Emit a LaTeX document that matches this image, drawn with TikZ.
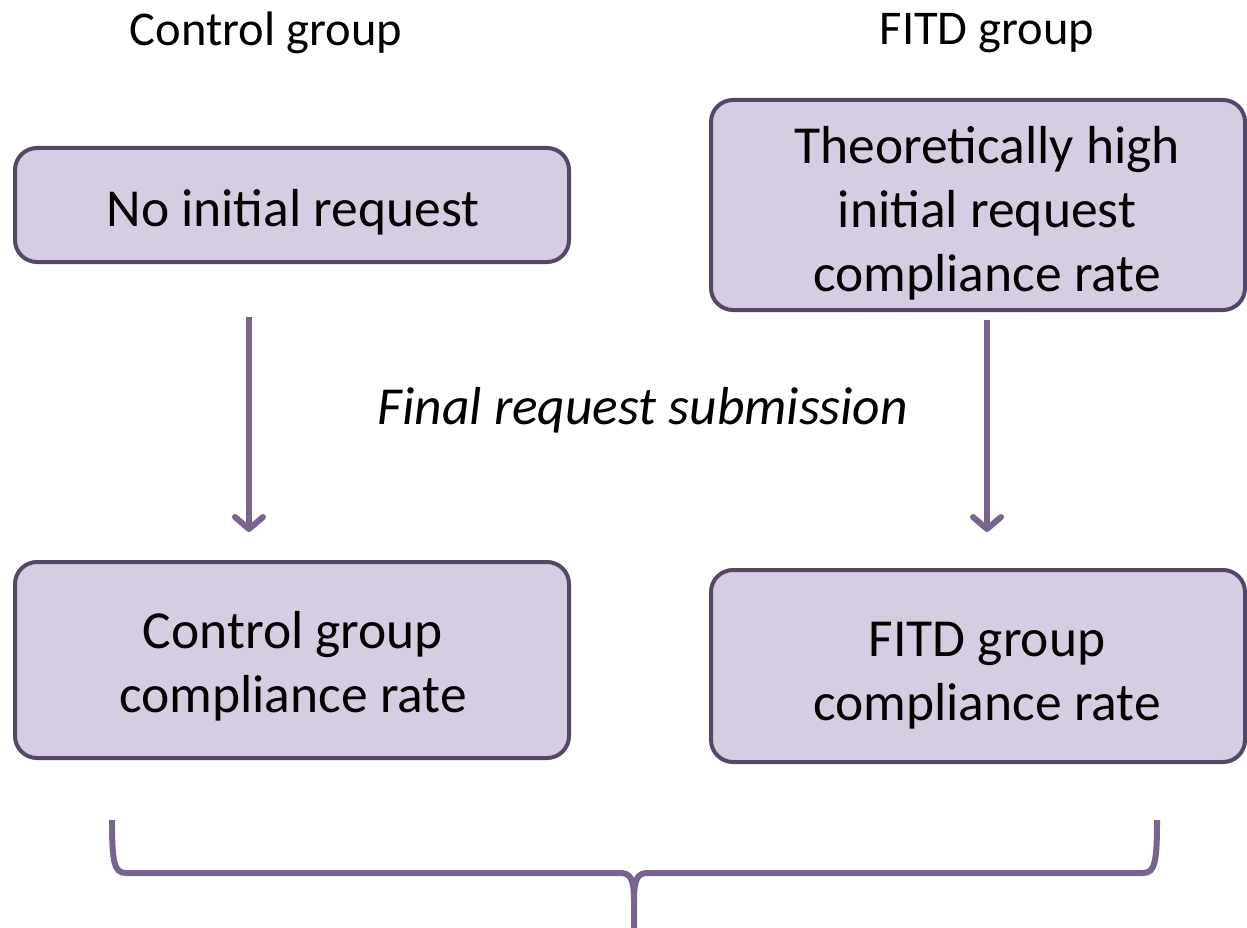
\documentclass[tikz,border=0pt]{standalone}
\usepackage{fontspec}
\setmainfont{Carlito}
\usetikzlibrary{arrows.meta}
\definecolor{boxfill}{HTML}{D7CDE2}
\definecolor{boxline}{HTML}{54476A}
\definecolor{arrowc}{HTML}{77648F}
\begin{document}
\begin{tikzpicture}[x=1pt,y=-1pt,
  box/.style={draw=boxline, fill=boxfill, line width=4pt, rounded corners=22pt, inner sep=0pt},
  boxtext/.style={align=center, inner sep=0pt, font=\fontsize{53.5}{64}\selectfont},
  title/.style={font=\fontsize{48.5}{58}\selectfont, inner sep=0pt},
  flow/.style={draw=arrowc, line width=6pt,
    -{Straight Barb[length=12pt,width=28pt,line cap=round,line join=round]}},
  bracel/.style={draw=arrowc, line width=6pt}]
\useasboundingbox (0,0) rectangle (1247,928);
\node[title] (t1) at (266,33) {Control group};
\node[title] (t2) at (987,33) {FITD group};
\node[box, minimum width=554pt, minimum height=114pt] (b1) at (292,205) {};
\node[boxtext] (b1t) at (293,212) {No initial request};
\node[box, minimum width=534pt, minimum height=210pt] (b2) at (978,205) {};
\node[boxtext] (b2t) at (987,213) {Theoretically high\\initial request\\compliance rate};
\node[box, minimum width=554pt, minimum height=196pt] (b3) at (292,660) {};
\node[boxtext] (b3t) at (293,666) {Control group\\compliance rate};
\node[box, minimum width=534pt, minimum height=192pt] (b4) at (978,666) {};
\node[boxtext] (b4t) at (987,676) {FITD group\\compliance rate};
\node[font=\fontsize{53.5}{64}\selectfont\itshape, inner sep=0pt] (lab) at (643,410) {Final request submission};
\coordinate (a1s) at (249,317);
\coordinate (a1e) at (249,532);
\coordinate (a2s) at (987,320);
\coordinate (a2e) at (987,532);
\draw[flow] (a1s) -- (a1e);
\draw[flow] (a2s) -- (a2e);
\coordinate (bl) at (112,820);
\coordinate (br) at (1157,820);
\coordinate (bt) at (634,932);
\draw[bracel] (bl) .. controls (112,862) and (114,873) .. (126,873) -- (620,873)
  .. controls (630,873) and (634,878) .. (634,900) -- (bt);
\draw[bracel] (br) .. controls (1157,862) and (1155,873) .. (1143,873) -- (648,873)
  .. controls (638,873) and (634,878) .. (634,900);
\end{tikzpicture}
\end{document}
